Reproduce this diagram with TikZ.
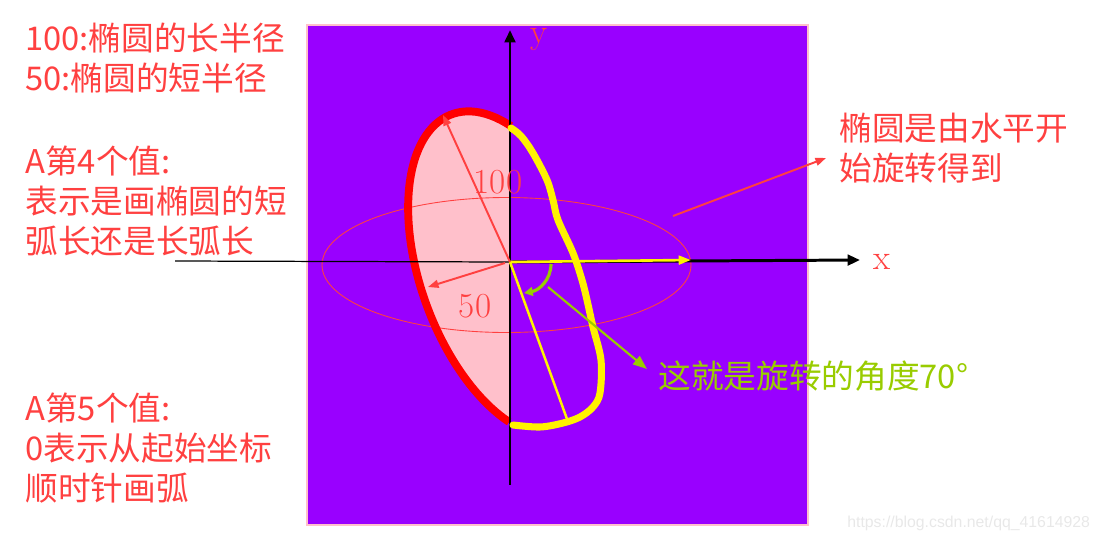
\documentclass[tikz,border=0pt]{standalone}
\usepackage{fontspec}
\newfontfamily\cjk{Noto Sans CJK SC}
\newfontfamily\wmfont{Liberation Sans}
\usepackage{tikz}
\usetikzlibrary{
  arrows.meta, % for Triangle and Stealth arrow tips
  positioning, % for relative placement of the labels
}
\definecolor{bgpurple}{RGB}{153,0,255}
\definecolor{notered}{RGB}{255,64,64}
\definecolor{notegreen}{RGB}{153,204,0}
\definecolor{petal}{RGB}{255,192,203}
\definecolor{wmgray}{RGB}{232,232,232}
\tikzset{
  note/.style={ % style for the red explanations
    text=notered, % light red text
    font=\cjk\fontsize{18.6}{23}\selectfont, % same size as the original slide
    align=left, % lines flush left
    inner sep=0pt, % no padding round the text
    anchor=west, % placed by their left edge
  },
  greennote/.style={ % style for the rotation note
    note, % inherit the note style
    text=notegreen, % but yellow-green
  },
  numlabel/.style={ % style for the numbers and axis names
    text=notered, % light red text
    font=\fontsize{20}{22}\selectfont, % serif, like the slide
    inner sep=0pt, % no padding
  },
  axis/.style={ % style for the upper and right axes
    -{Triangle[length=7pt,width=6pt]}, % filled triangle tip
    line width=1.7pt, % heavy stroke
  },
  thinaxis/.style={ % style for the lower and left axes
    line width=0.7pt, % hairline
  },
  conn/.style={ % style for the red pointers
    -{Triangle[length=6pt,width=4.5pt]}, % small filled tip
    draw=notered, % light red
    line width=1.1pt, % medium stroke
  },
  greenconn/.style={ % style for the green pointers
    -{Triangle[length=8pt,width=6pt]}, % a bit larger tip
    draw=notegreen, % yellow-green
    line width=1.2pt, % medium stroke
  },
  yellowline/.style={ % style for the yellow marks
    draw=yellow, % pure yellow
    line width=1.5pt, % medium stroke
  },
}
\begin{document}
\begin{tikzpicture}[x=0.02cm, y=0.02cm]
\useasboundingbox (0,0) rectangle (1099,-542);
% panel
\draw[draw=petal, line width=1.2pt, fill=bgpurple] (307,-25) rectangle (808,-525);
% half of the rotated ellipse
\begin{scope}[shift={(510,-274)}, rotate=110]
\fill[petal] (0,0) -- (-35.3:170 and 89) arc[start angle=-35.3, end angle=144.7, x radius=170, y radius=89] -- cycle;
\end{scope}
\draw[notered, line width=0.5pt] (506.5,-265) ellipse[x radius=184.5, y radius=67.5];
\begin{scope}[shift={(510,-274)}, rotate=110]
\draw[red, line width=4.5pt] (-35.3:170 and 89) arc[start angle=-35.3, end angle=144.7, x radius=170, y radius=89];
\end{scope}
% axes
\coordinate (O) at (510,-262);
\coordinate (ytop) at (510,-30);
\coordinate (ybot) at (510,-485);
\coordinate (xleft) at (175,-261);
\coordinate (xright) at (860,-260);
\draw[thinaxis] (O) -- (ybot);
\draw[axis] (O) -- (ytop);
\draw[thinaxis] (xleft) -- (O);
\draw[axis] (O) -- (xright);
\node[numlabel] (ylab) at (539,-40) {y};
\node[numlabel] (xlab) at (882,-262) {x};
% yellow marks
\coordinate (xend) at (691,-260);
\coordinate (majorend) at (567,-419);
\draw[yellowline, -{Triangle[length=7pt,width=5pt]}] (O) -- (xend);
\draw[yellowline, line width=1.4pt] (O) -- (majorend);
\draw[yellow, line width=4pt, line cap=round, line join=round] plot[smooth, tension=0.55] coordinates {
  (511,-128) (521,-136) (533,-153) (547,-180) (553,-200) (558,-220) (573,-253) (582,-280)
  (587,-300) (593,-327) (601,-360) (600,-393) (593,-407) (580,-417) (563,-423) (540,-427) (513,-425)};
% radii
\coordinate (majortip) at (443,-115);
\coordinate (minorstart) at (505,-263);
\coordinate (minortip) at (428,-287);
\draw[conn] (O) -- (majortip);
\draw[conn] (minorstart) -- (minortip);
\node[numlabel] (major) at (498,-182) {100};
\node[numlabel] (minor) at (475,-306) {50};
% rotation angle
\coordinate (anglestart) at (551,-264);
\coordinate (angleend) at (524,-293);
\draw[greenconn, line width=1.8pt, -{Triangle[length=5pt,width=5pt]}] (anglestart) to[out=-90, in=10] (angleend);
\node[greennote] (angle) at (658,-376) {这就是旋转的角度70°};
\coordinate (angletail) at (548,-287);
\coordinate (anglehead) at (647,-369);
\draw[greenconn] (angletail) -- (anglehead);
% notes
\node[note] (radii) at (25,-58) {100:椭圆的长半径\\50:椭圆的短半径};
\node[note] (fourth) at (25,-201) {A第4个值:\\表示是画椭圆的短\\弧长还是长弧长};
\node[note] (fifth) at (25,-448) {A第5个值:\\0表示从起始坐标\\顺时针画弧};
\node[note] (rotnote) at (839,-148) {椭圆是由水平开\\始旋转得到};
\coordinate (rottail) at (673,-216);
\coordinate (rottip) at (826,-158);
\draw[conn] (rottail) -- (rottip);
\node[text=wmgray, font=\wmfont\fontsize{9}{10}\selectfont, inner sep=0pt, anchor=west] (mark) at (847,-523) {https://blog.csdn.net/qq\_41614928};
\end{tikzpicture}
\end{document}
